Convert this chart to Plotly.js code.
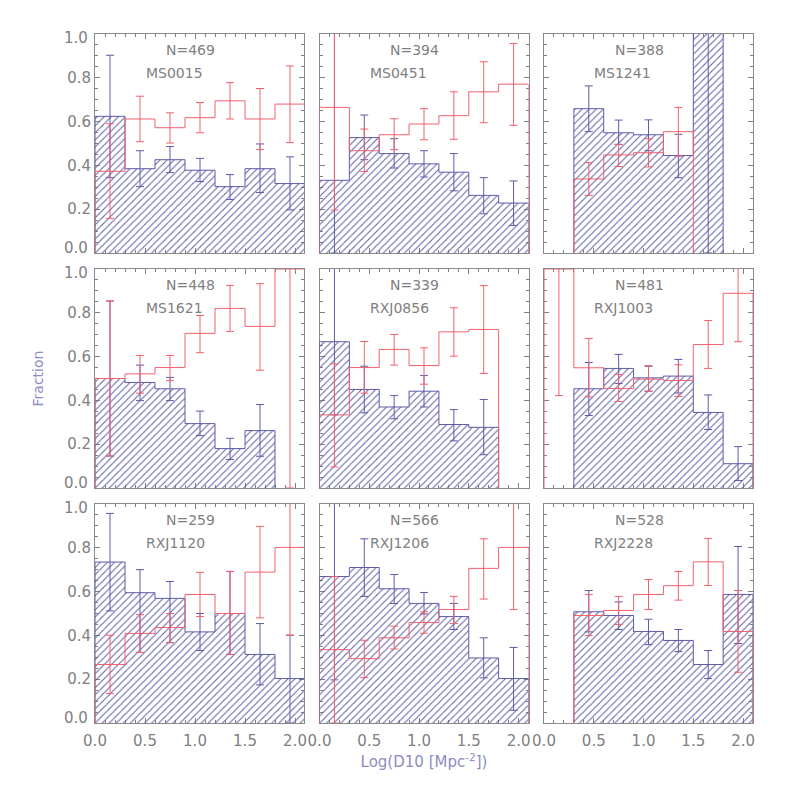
<!DOCTYPE html>
<html>
<head>
<meta charset="utf-8">
<script src="https://cdn.plot.ly/plotly-3.0.1.min.js"></script>
<style>
  html, body { margin: 0; padding: 0; background: #fff; }
</style>
</head>
<body>
<div id="chart" style="width:786px;height:786px;"></div>
<script>
var clusters = ['MS0015', 'MS0451', 'MS1241', 'MS1621', 'RXJ0856', 'RXJ1003', 'RXJ1120', 'RXJ1206', 'RXJ2228'];
var counts = [469, 394, 388, 448, 339, 481, 259, 566, 528];

// seven bins of 0.3 in Log(D10), null = empty bin. 1.2 = runs off the top of the panel
var binEdges = [0, 0.3, 0.6, 0.9, 1.2, 1.5, 1.8, 2.1];
var binCentres = [0.15, 0.45, 0.75, 1.05, 1.35, 1.65, 1.95];

var blueFrac = [
  [0.624, 0.385, 0.426, 0.378, 0.303, 0.385, 0.317],
  [0.332, 0.527, 0.454, 0.407, 0.369, 0.263, 0.228],
  [null, 0.659, 0.549, 0.540, 0.445, 1.2, null],
  [0.500, 0.482, 0.453, 0.294, 0.180, 0.262, null],
  [0.668, 0.450, 0.370, 0.442, 0.290, 0.277, null],
  [null, 0.453, 0.546, 0.503, 0.511, 0.345, 0.111],
  [0.735, 0.595, 0.569, 0.416, 0.500, 0.313, 0.203],
  [0.669, 0.710, 0.613, 0.546, 0.486, 0.297, 0.203],
  [null, 0.508, 0.491, 0.418, 0.377, 0.267, 0.587]
];
var blueLo = [
  [0.344, 0.303, 0.367, 0.326, 0.244, 0.276, 0.197],
  [0, 0.426, 0.388, 0.347, 0.284, 0.179, 0.126],
  [null, 0.554, 0.496, 0.467, 0.344, 0, null],
  [0.146, 0.399, 0.399, 0.239, 0.130, 0.145, null],
  [0.334, 0.343, 0.316, 0.370, 0.215, 0.152, null],
  [null, 0.331, 0.477, 0.442, 0.434, 0.267, 0.034],
  [0.512, 0.322, 0.367, 0.331, 0.313, 0.174, 0],
  [0.197, 0.578, 0.546, 0.498, 0.427, 0.206, 0.058],
  [null, 0.416, 0.427, 0.358, 0.326, 0.203, 0.363]
];
var blueHi = [
  [0.903, 0.467, 0.486, 0.432, 0.358, 0.498, 0.439],
  [1.2, 0.630, 0.522, 0.467, 0.454, 0.344, 0.329],
  [null, 0.763, 0.607, 0.608, 0.542, 1.2, null],
  [0.854, 0.561, 0.505, 0.351, 0.227, 0.381, null],
  [1.2, 0.556, 0.422, 0.514, 0.358, 0.404, null],
  [null, 0.573, 0.610, 0.556, 0.587, 0.425, 0.189],
  [0.957, 0.700, 0.646, 0.500, 0.692, 0.454, 0.401],
  [1.2, 0.841, 0.678, 0.596, 0.546, 0.389, 0.345],
  [null, 0.605, 0.553, 0.474, 0.427, 0.331, 0.806]
];

var redFrac = [
  [0.373, 0.612, 0.572, 0.618, 0.695, 0.612, 0.680],
  [0.665, 0.467, 0.540, 0.589, 0.627, 0.736, 0.771],
  [null, 0.338, 0.448, 0.458, 0.554, null, null],
  [0.500, 0.521, 0.550, 0.706, 0.820, 0.738, 1.0],
  [0.334, 0.550, 0.633, 0.559, 0.713, 0.724, null],
  [1.0, 0.549, 0.454, 0.497, 0.491, 0.655, 0.889],
  [0.267, 0.409, 0.436, 0.587, 0.500, 0.689, 0.802],
  [0.335, 0.294, 0.389, 0.459, 0.518, 0.706, 0.802],
  [null, 0.491, 0.514, 0.587, 0.627, 0.736, 0.418]
];
var redLo = [
  [0.158, 0.508, 0.502, 0.549, 0.612, 0.472, 0.504],
  [0.196, 0.372, 0.472, 0.517, 0.519, 0.595, 0.583],
  [null, 0.263, 0.395, 0.393, 0.442, null, null],
  [0.146, 0.433, 0.490, 0.618, 0.715, 0.538, 0],
  [0.096, 0.433, 0.561, 0.474, 0.602, 0.523, null],
  [0.422, 0.416, 0.395, 0.442, 0.418, 0.546, 0.668],
  [0.134, 0.322, 0.367, 0.486, 0.313, 0.480, 0.401],
  [0, 0.207, 0.338, 0.410, 0.454, 0.566, 0.518],
  [null, 0.399, 0.450, 0.518, 0.561, 0.628, 0.232]
];
var redHi = [
  [0.590, 0.716, 0.640, 0.687, 0.778, 0.751, 0.854],
  [1.2, 0.566, 0.613, 0.659, 0.736, 0.873, 0.957],
  [null, 0.413, 0.496, 0.522, 0.665, null, null],
  [0.854, 0.605, 0.605, 0.788, 0.925, 0.933, 1.2],
  [0.567, 0.669, 0.701, 0.640, 0.823, 0.924, null],
  [1.2, 0.683, 0.518, 0.559, 0.563, 0.765, 1.2],
  [0.401, 0.495, 0.500, 0.688, 0.692, 0.898, 1.2],
  [0.669, 0.378, 0.442, 0.508, 0.578, 0.841, 1.2],
  [null, 0.587, 0.578, 0.655, 0.692, 0.843, 0.605]
];

var xTicks = [0, 0.5, 1, 1.5, 2];
var xTickText = ['0.0', '0.5', '1.0', '1.5', '2.0'];
// 0.0 and 1.0 sit inside the frame height, see annotations
var yTicks = [0.2, 0.4, 0.6, 0.8];
var yTickText = ['0.2', '0.4', '0.6', '0.8'];

var BLUE = '#5c5ca8';
var RED = '#f2606e';
var GREY = '#808080';
var TITLE_BLUE = '#8c8cc4';
var FONT = 'DejaVu Sans, sans-serif';

// frame positions in pixels
var colLeft = [95, 319.5, 544];
var colRight = [304, 528.5, 753];
var rowTop = [34, 269, 504];
var rowBottom = [253, 488, 723];
var SIZE = 786;

function stepLine(values)
{
    var first = values.findIndex(function(v) { return v !== null; });
    var last = values.length - 1;
    while (values[last] === null) last--;
    var xs = [binEdges[first]];
    var ys = [0];
    for (var i = first; i <= last; i++) {
        xs.push(binEdges[i], binEdges[i + 1]);
        ys.push(values[i], values[i]);
    }
    xs.push(binEdges[last + 1]);
    ys.push(0);
    return {x: xs, y: ys};
}

function histTrace(values, color, axisId, hatched)
{
    var s = stepLine(values);
    var t = {
        x: s.x, y: s.y,
        xaxis: 'x' + axisId, yaxis: 'y' + axisId,
        type: 'scatter', mode: 'lines',
        line: {color: color, width: 1},
        hoverinfo: 'skip', showlegend: false
    };
    if (hatched) {
        t.fill = 'tozeroy';
        t.fillcolor = 'rgba(0,0,0,0)';
        t.fillpattern = {shape: '/', fgcolor: color, bgcolor: 'rgba(0,0,0,0)', size: 5, solidity: 0.2};
    }
    return t;
}

function errorTrace(values, lo, hi, color, axisId)
{
    return {
        x: binCentres, y: values,
        xaxis: 'x' + axisId, yaxis: 'y' + axisId,
        type: 'scatter', mode: 'markers',
        marker: {size: 1, opacity: 0},
        error_y: {
            type: 'data', symmetric: false,
            array: values.map(function(v, j) { return v === null ? null : hi[j] - v; }),
            arrayminus: values.map(function(v, j) { return v === null ? null : v - lo[j]; }),
            color: color, thickness: 1, width: 4
        },
        hoverinfo: 'skip', showlegend: false
    };
}

var data = [];
var layout = {
  width: SIZE, height: SIZE,
  margin: {l: 0, r: 0, t: 0, b: 0},
  paper_bgcolor: '#fff', plot_bgcolor: '#fff',
  showlegend: false,
  font: {family: FONT, size: 14, color: GREY},
  annotations: []
};

clusters.forEach(function(name, i) {
    var row = Math.floor(i / 3);
    var col = i % 3;
    var id = i + 1;

    data.push(histTrace(blueFrac[i], BLUE, id, true));
    data.push(errorTrace(blueFrac[i], blueLo[i], blueHi[i], BLUE, id));
    data.push(histTrace(redFrac[i], RED, id, false));
    data.push(errorTrace(redFrac[i], redLo[i], redHi[i], RED, id));

    layout['xaxis' + id] = {
        domain: [colLeft[col] / SIZE, colRight[col] / SIZE],
        anchor: 'y' + id,
        range: [0, col === 0 ? 2.09 : 2.1],
        tickmode: 'array', tickvals: xTicks, ticktext: xTickText,
        showticklabels: row === 2,
        ticklabelstandoff: 4,
        ticks: 'inside', ticklen: 5, tickcolor: GREY, tickwidth: 1,
        minor: {dtick: 0.1, tick0: 0, ticks: 'inside', ticklen: 3, tickcolor: GREY, tickwidth: 1},
        showline: true, mirror: 'ticks', linecolor: '#8a8a8a', linewidth: 1,
        showgrid: false, zeroline: false, layer: 'below traces',
        tickfont: {family: FONT, size: 15, color: GREY}
    };
    layout['yaxis' + id] = {
        domain: [1 - rowBottom[row] / SIZE, 1 - rowTop[row] / SIZE],
        anchor: 'x' + id,
        range: [0, 1],
        tickmode: 'array', tickvals: yTicks, ticktext: yTickText,
        showticklabels: col === 0,
        ticks: 'inside', ticklen: 5, tickcolor: GREY, tickwidth: 1,
        minor: {dtick: 0.05, tick0: 0, ticks: 'inside', ticklen: 3, tickcolor: GREY, tickwidth: 1},
        showline: true, mirror: 'ticks', linecolor: '#8a8a8a', linewidth: 1,
        showgrid: false, zeroline: false, layer: 'below traces',
        tickfont: {family: FONT, size: 15, color: GREY}
    };

    layout.annotations.push({
        text: 'N=' + counts[i], xref: 'x' + id, yref: 'y' + id, x: 0.69, y: 0.925,
        xanchor: 'left', yanchor: 'middle', showarrow: false,
        font: {family: FONT, size: 14, color: GREY}
    });
    layout.annotations.push({
        text: name, xref: 'x' + id, yref: 'y' + id, x: 0.485, y: 0.82,
        xanchor: 'left', yanchor: 'middle', showarrow: false,
        font: {family: FONT, size: 14, color: GREY}
    });

    if (col === 0) {
        layout.annotations.push({
            text: '1.0', xref: 'x' + id, yref: 'y' + id, x: 0, y: 1, yshift: -4, xshift: -5,
            xanchor: 'right', yanchor: 'middle', showarrow: false,
            font: {family: FONT, size: 15, color: GREY}
        });
        layout.annotations.push({
            text: '0.0', xref: 'x' + id, yref: 'y' + id, x: 0, y: 0, yshift: 5, xshift: -5,
            xanchor: 'right', yanchor: 'middle', showarrow: false,
            font: {family: FONT, size: 15, color: GREY}
        });
    }
});

layout.xaxis8.title = {
    text: 'Log(D10 [Mpc<sup>-2</sup>])',
    font: {family: FONT, size: 15, color: TITLE_BLUE},
    standoff: 7
};
layout.yaxis4.title = {
    text: 'Fraction',
    font: {family: FONT, size: 14, color: TITLE_BLUE},
    standoff: 20
};

Plotly.newPlot('chart', data, layout, {displayModeBar: false});
</script>
</body>
</html>
